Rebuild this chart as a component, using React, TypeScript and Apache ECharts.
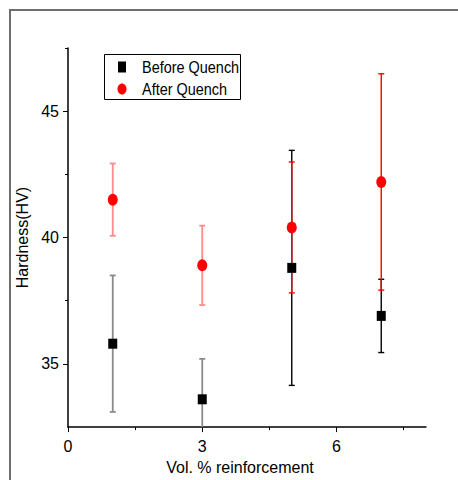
import React, { useEffect, useRef } from "react";
import * as echarts from "echarts";

// ---- data ----
const xValues = [1, 3, 5, 7];
const beforeMean = [35.8, 33.6, 38.8, 36.9];
const beforeErr = [2.7, 1.6, 4.65, 1.45];
const afterMean = [41.5, 38.9, 40.4, 42.2];
const afterErr = [1.43, 1.57, 2.59, 4.28];
const xMajorTicks = [0, 3, 6];
const xMinorTicks = [1.5, 4.5, 7.5];
const yMajorTicks = [35, 40, 45];
const yMinorTicks = [37.5, 42.5, 47.5];
const seriesNames = ["Before Quench", "After Quench"];

const FONT = "'Liberation Sans', Arial, sans-serif";
const beforeBarColors = ["#8a8a8a", "#8a8a8a", "#000000", "#000000"];
const afterBarColors = ["#ff8a8a", "#ff8a8a", "#ff0000", "#ff0000"];
const fadedBars = [true, true, false, false];

const ELLIPSE = "path://M0,-1A1,1 0 1 1 0,1A1,1 0 1 1 0,-1Z";

function errorSeries(means: number[], errs: number[], colors: string[]) {
  return {
    type: "custom",
    xAxisIndex: 0,
    yAxisIndex: 0,
    clip: true,
    silent: true,
    data: xValues.map((x, i) => [x, means[i] - errs[i], means[i] + errs[i]]),
    renderItem: (params: any, api: any) => {
      const x = api.value(0);
      const lo = api.value(1);
      const hi = api.value(2);
      const top = api.coord([x, hi]);
      const bot = api.coord([x, lo]);
      const cap = 3;
      const faded = fadedBars[params.dataIndex];
      const style = { stroke: colors[params.dataIndex], lineWidth: faded ? 1.8 : 1.4 };
      return {
        type: "group",
        children: [
          { type: "line", shape: { x1: top[0], y1: top[1], x2: bot[0], y2: bot[1] }, style },
          { type: "line", shape: { x1: top[0] - cap, y1: top[1], x2: top[0] + cap, y2: top[1] }, style },
          { type: "line", shape: { x1: bot[0] - cap, y1: bot[1], x2: bot[0] + cap, y2: bot[1] }, style },
        ],
      };
    },
  };
}

export default function App() {
  const ref = useRef<HTMLDivElement>(null);
  useEffect(() => {
    if (!ref.current) return;
    const chart = echarts.init(ref.current, null, { renderer: "svg" });
    const axisText = { color: "#000", fontSize: 16, fontFamily: FONT };
    chart.setOption({
      animation: false,
      backgroundColor: "#ffffff",
      grid: { left: 68, top: 48, right: 32, bottom: 52, containLabel: false },
      xAxis: [
        {
          type: "value",
          min: 0,
          max: 8,
          position: "bottom",
          name: "Vol. % reinforcement",
          nameLocation: "middle",
          nameGap: 31,
          nameTextStyle: { ...axisText, padding: [0, 14, 0, 0] },
          axisLine: { show: true, lineStyle: { color: "#000", width: 1.5 } },
          axisTick: { show: true, length: 5, customValues: xMajorTicks, lineStyle: { color: "#000", width: 1 } },
          axisLabel: { show: true, customValues: xMajorTicks, margin: 11, ...axisText },
          splitLine: { show: false },
        },
        {
          type: "value",
          min: 0,
          max: 8,
          position: "bottom",
          axisLine: { show: false },
          axisTick: { show: true, length: 3, customValues: xMinorTicks, lineStyle: { color: "#000", width: 1 } },
          axisLabel: { show: false },
          splitLine: { show: false },
        },
      ],
      yAxis: [
        {
          type: "value",
          min: 32.5,
          max: 47.5,
          position: "left",
          name: "Hardness(HV)",
          nameLocation: "middle",
          nameGap: 27,
          nameTextStyle: axisText,
          axisLine: { show: true, lineStyle: { color: "#000", width: 1.5 } },
          axisTick: { show: true, length: 5, customValues: yMajorTicks, lineStyle: { color: "#000", width: 1 } },
          axisLabel: { show: true, customValues: yMajorTicks, margin: 9, ...axisText },
          splitLine: { show: false },
        },
        {
          type: "value",
          min: 32.5,
          max: 47.5,
          position: "left",
          axisLine: { show: false },
          axisTick: { show: true, length: 3, customValues: yMinorTicks, lineStyle: { color: "#000", width: 1 } },
          axisLabel: { show: false },
          splitLine: { show: false },
        },
      ],
      series: [
        errorSeries(beforeMean, beforeErr, beforeBarColors),
        errorSeries(afterMean, afterErr, afterBarColors),
        {
          name: seriesNames[1],
          type: "scatter",
          xAxisIndex: 0,
          yAxisIndex: 0,
          symbol: ELLIPSE,
          symbolSize: [10, 12],
          itemStyle: { color: "#ff0000", opacity: 1 },
          data: xValues.map((x, i) => [x, afterMean[i]]),
        },
        {
          name: seriesNames[0],
          type: "scatter",
          xAxisIndex: 0,
          yAxisIndex: 0,
          symbol: "rect",
          symbolSize: [9, 10],
          itemStyle: { color: "#000000", opacity: 1 },
          data: xValues.map((x, i) => [x, beforeMean[i]]),
        },
      ],
      graphic: [
        {
          type: "polyline",
          shape: { points: [[10, 480], [10, 10], [458, 10]] },
          style: { stroke: "#6e6e6e", lineWidth: 2, fill: null },
          silent: true,
        },
        {
          type: "rect",
          shape: { x: 104.5, y: 54.5, width: 136, height: 45 },
          style: { stroke: "#000", lineWidth: 1, fill: "#fff" },
          silent: true,
        },
        {
          type: "rect",
          shape: { x: 118, y: 61.5, width: 8, height: 11 },
          style: { fill: "#000" },
          silent: true,
        },
        {
          type: "ellipse",
          shape: { cx: 122, cy: 89, rx: 4.5, ry: 5.5 },
          style: { fill: "#ff0000" },
          silent: true,
        },
        {
          type: "text",
          x: 142,
          y: 67,
          scaleX: 0.85,
          style: { text: seriesNames[0], fill: "#000", font: `17px ${FONT}`, verticalAlign: "middle", align: "left" },
          silent: true,
        },
        {
          type: "text",
          x: 142,
          y: 89,
          scaleX: 0.85,
          style: { text: seriesNames[1], fill: "#000", font: `17px ${FONT}`, verticalAlign: "middle", align: "left" },
          silent: true,
        },
      ],
    });
    return () => chart.dispose();
  }, []);
  return (
    <div
      ref={ref}
      style={{ position: "absolute", left: 0, top: 0, width: 458, height: 480 }}
    />
  );
}
